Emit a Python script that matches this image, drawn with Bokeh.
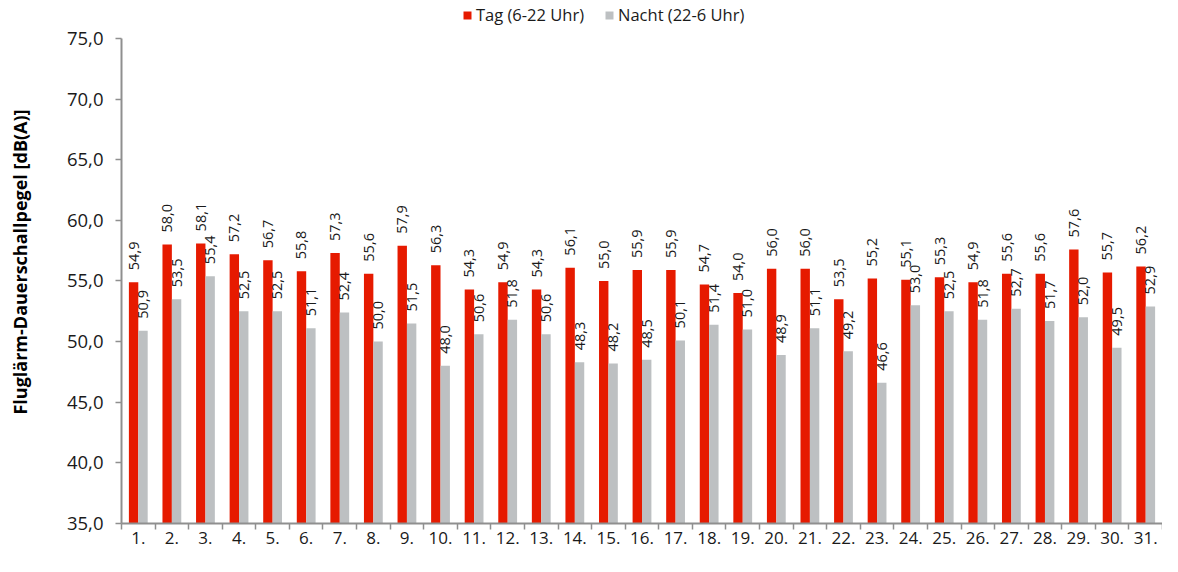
import numpy as np
from bokeh.plotting import figure
from bokeh.models import (ColumnDataSource, Range1d, LinearAxis, FixedTicker,
                          CustomJSTickFormatter, Legend, LegendItem)
from bokeh.core.properties import value
from bokeh.embed import file_html
from bokeh.resources import INLINE

days = [f"{i}." for i in range(1, 32)]
tag = [54.9, 58.0, 58.1, 57.2, 56.7, 55.8, 57.3, 55.6, 57.9, 56.3, 54.3, 54.9, 54.3, 56.1, 55.0, 55.9,
       55.9, 54.7, 54.0, 56.0, 56.0, 53.5, 55.2, 55.1, 55.3, 54.9, 55.6, 55.6, 57.6, 55.7, 56.2]
nacht = [50.9, 53.5, 55.4, 52.5, 52.5, 51.1, 52.4, 50.0, 51.5, 48.0, 50.6, 51.8, 50.6, 48.3, 48.2, 48.5,
         50.1, 51.4, 51.0, 48.9, 51.1, 49.2, 46.6, 53.0, 52.5, 51.8, 52.7, 51.7, 52.0, 49.5, 52.9]
y_ticks = [35, 40, 45, 50, 55, 60, 65, 70, 75]
series_names = ["Tag (6-22 Uhr)", "Nacht (22-6 Uhr)"]

FONT = "Open Sans"
RED = "#E61A00"
GRAY = "#BDC0C2"
AXIS = "#8f8f8f"

pos = np.arange(1, len(days) + 1)
fmt = lambda v: f"{v:.1f}".replace(".", ",")
src = ColumnDataSource(dict(
    x_tag=pos - 0.14, x_nacht=pos + 0.14,
    tag=tag, nacht=nacht,
    tag_lbl=[fmt(v) for v in tag], nacht_lbl=[fmt(v) for v in nacht],
))

# the frame reaches up to the top of the figure so that the legend can sit above the 75,0 tick;
# the y axis itself is bounded to 35..75
p = figure(width=1162, height=556, output_backend="svg", toolbar_location=None,
           x_range=Range1d(0.5, len(days) + 0.5), y_range=Range1d(35, 78.13),
           x_axis_type=None,
           min_border_left=121, min_border_right=0, min_border_top=0, min_border_bottom=33)
p.grid.visible = False
p.outline_line_color = None
p.background_fill_color = "white"

r1 = p.vbar(x="x_tag", top="tag", bottom=35, width=0.28, source=src, fill_color=RED, line_color=None)
r2 = p.vbar(x="x_nacht", top="nacht", bottom=35, width=0.28, source=src, fill_color=GRAY, line_color=None)

for xc, yc, lc in (("x_tag", "tag", "tag_lbl"), ("x_nacht", "nacht", "nacht_lbl")):
    p.text(x=xc, y=yc, text=lc, source=src, angle=np.pi / 2, text_align="left",
           text_baseline="middle", y_offset=-12, text_font=value(FONT),
           text_font_size="14.5px", text_color="#1a1a1a")

# y axis
ya = p.yaxis[0]
ya.ticker = FixedTicker(ticks=y_ticks)
ya.bounds = (35, 75)
ya.formatter = CustomJSTickFormatter(code="return tick.toFixed(1).replace('.', ',');")
ya.axis_label = "Fluglärm-Dauerschallpegel [dB(A)]"
ya.axis_label_text_font = FONT
ya.axis_label_text_font_style = "bold"
ya.axis_label_text_font_size = "18px"
ya.axis_label_text_color = "#000000"
ya.axis_label_standoff = 32
ya.major_label_text_font = FONT
ya.major_label_text_font_size = "18.5px"
ya.major_label_text_color = "#1a1a1a"
ya.major_label_standoff = 12
ya.axis_line_color = AXIS
ya.axis_line_width = 2
ya.major_tick_line_color = AXIS
ya.major_tick_line_width = 1.5
ya.major_tick_out = 6
ya.major_tick_in = 0
ya.minor_tick_line_color = None

# x axis: labels at category centres, tick marks (minor ticks) at category boundaries
xl = LinearAxis(ticker=FixedTicker(ticks=list(pos),
                                   minor_ticks=list(pos - 0.5) + [len(days) + 0.5]),
                major_label_overrides={int(k): d for k, d in zip(pos, days)},
                major_label_text_font=FONT, major_label_text_font_size="17px",
                major_label_text_color="#1a1a1a", major_label_standoff=2,
                axis_line_color=AXIS, axis_line_width=2,
                major_tick_line_color=None, major_tick_out=6, major_tick_in=0,
                minor_tick_line_color=AXIS, minor_tick_line_width=1.5,
                minor_tick_out=6, minor_tick_in=0)
p.add_layout(xl, "below")

legend = Legend(items=[LegendItem(label=series_names[0], renderers=[r1]),
                       LegendItem(label=series_names[1], renderers=[r2])],
                orientation="horizontal", location=(341, 497),
                label_text_font=FONT, label_text_font_size="16.5px", label_text_color="#1a1a1a",
                glyph_width=10, glyph_height=10, label_standoff=4, spacing=20,
                padding=0, margin=0, border_line_color=None, background_fill_alpha=0)
p.add_layout(legend, "center")

open("out.html", "w").write(file_html(p, INLINE))
